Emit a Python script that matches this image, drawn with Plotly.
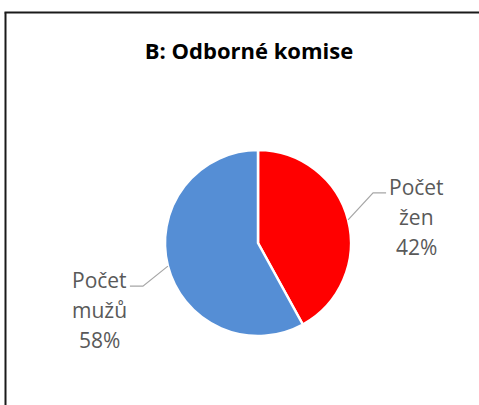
import math
import plotly.graph_objects as go

# data
labels = ["Počet žen", "Počet mužů"]
values = [42, 58]
colors = ["#FF0000", "#558ED5"]
title = "B: Odborné komise"

W, H = 479, 405
cx, cy, r = 258, 243, 93  # pie centre / radius in px


def px(x, y):
    return x / W, 1 - y / H


fig = go.Figure()
fig.add_trace(go.Pie(
    labels=labels, values=values, sort=False, direction="clockwise", rotation=0,
    marker=dict(colors=colors, line=dict(color="white", width=2.5)),
    textinfo="none", hoverinfo="label+percent", showlegend=False,
    domain=dict(x=[(cx - r) / W, (cx + r) / W], y=[1 - (cy + r) / H, 1 - (cy - r) / H]),
))

total = sum(values)
start = 0
shapes = []
annotations = []
for lab, v in zip(labels, values):
    mid = (start + v / 2) / total * 2 * math.pi
    start += v
    ex, ey = cx + r * math.sin(mid), cy - r * math.cos(mid)
    side = 1 if math.sin(mid) > 0 else -1
    kx, ky = ex + side * 25, ey + (-27 if side > 0 else 20)
    lx = kx + side * 13
    path = f"M {ex/W},{1-ey/H} L {kx/W},{1-ky/H} L {lx/W},{1-ky/H}"
    shapes.append(dict(type="path", xref="paper", yref="paper", path=path,
                       line=dict(color="#A6A6A6", width=1.2)))
    pct = f"{round(v / total * 100)}%"
    lines = lab.split(" ") + [pct]
    tx = lx + side * 30
    for i, t in enumerate(lines):
        x, y = px(tx, ky - 6 + i * 30)
        annotations.append(dict(text=t, x=x, y=y, xref="paper", yref="paper",
                                showarrow=False, xanchor="center", yanchor="middle",
                                font=dict(size=21, color="#595959")))

# chart border: only the left and top edges fall inside the picture
shapes.append(dict(type="line", xref="paper", yref="paper",
                   x0=5.5 / W, x1=5.5 / W, y0=0, y1=1 - 12.5 / H,
                   line=dict(color="#1a1a1a", width=2)))
shapes.append(dict(type="line", xref="paper", yref="paper",
                   x0=4.5 / W, x1=1, y0=1 - 12.5 / H, y1=1 - 12.5 / H,
                   line=dict(color="#1a1a1a", width=2)))

fig.update_layout(
    width=W, height=H, margin=dict(l=0, r=0, t=0, b=0),
    paper_bgcolor="white", plot_bgcolor="white",
    font=dict(family="Open Sans, sans-serif"),
    title=dict(text="<b>" + title + "</b>", x=249 / W, xanchor="center",
               y=1 - 51 / H, yanchor="middle", font=dict(size=22, color="#000000")),
    shapes=shapes, annotations=annotations,
)

fig.write_html("out.html", config={"displayModeBar": False},
               post_script="document.documentElement.style.overflow='hidden';"
                           "document.body.style.margin='0';document.body.style.overflow='hidden';")
